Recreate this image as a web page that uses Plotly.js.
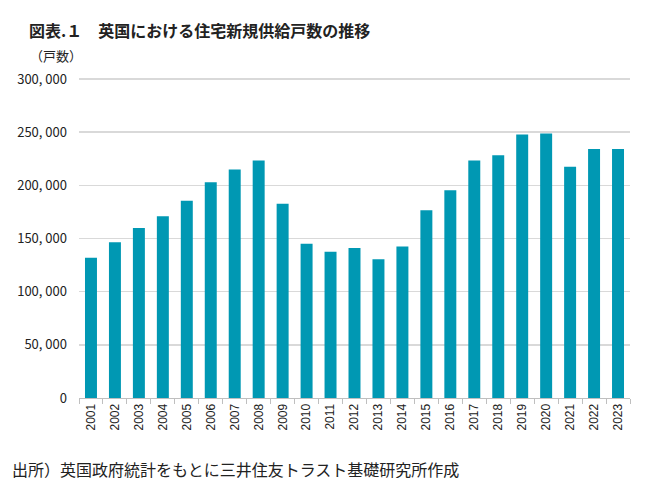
<!DOCTYPE html>
<html>
<head>
<meta charset="utf-8">
<script src="https://cdn.plot.ly/plotly-3.0.1.min.js"></script>
<style>html,body{margin:0;padding:0;background:#fff;}#chart{width:656px;height:493px;}</style>
</head>
<body>
<div id="chart"></div>
<script>
const years = ["2001","2002","2003","2004","2005","2006","2007","2008","2009","2010","2011","2012","2013","2014","2015","2016","2017","2018","2019","2020","2021","2022","2023"];
const supply = [132000,146500,160000,171000,185500,203000,215000,223500,182700,145000,137500,141000,130500,142500,176500,195300,223300,228300,247800,248800,217600,234200,234200];
const yTickVals = [0,50000,100000,150000,200000,250000,300000];
const yTickText = ["0","50, 000","100, 000","150, 000","200, 000","250, 000","300, 000"];
const titleText = "図表.１　英国における住宅新規供給戸数の推移";
const unitText = "（戸数）";
const sourceText = "出所）英国政府統計をもとに三井住友トラスト基礎研究所作成";

const jp = "'Noto Sans CJK JP', 'Noto Sans', sans-serif";
const W = 656, H = 493, L = 79, R = 26, T = 78, B = 95;
const pw = W - L - R, ph = H - T - B;
const px = x => (x - L) / pw;
const py = y => (H - B - y) / ph;

const data = [{
  type: "bar",
  x: years,
  y: supply,
  marker: {color: "#0098B3", line: {width: 0}},
  hoverinfo: "x+y"
}];

const layout = {
  width: W, height: H,
  margin: {l: L, r: R, t: T, b: B, pad: 0},
  paper_bgcolor: "#fff", plot_bgcolor: "#fff",
  showlegend: false,
  bargap: 0.5,
  xaxis: {
    type: "category",
    tickangle: -90,
    tickfont: {family: "'Liberation Sans', Arial, sans-serif", size: 12, color: "#222"},
    showgrid: false,
    showline: true, linecolor: "#bfbfbf", linewidth: 1,
    ticks: "outside", tickson: "boundaries", ticklen: 5, tickcolor: "#bfbfbf", tickwidth: 1,
    zeroline: false
  },
  yaxis: {
    range: [0, 301000],
    tickvals: yTickVals, ticktext: yTickText,
    tickfont: {family: jp, size: 13, color: "#222"},
    showgrid: true, gridcolor: "#d9d9d9", gridwidth: 1.5,
    zeroline: false, showline: false, ticks: "", ticklabelstandoff: 11
  },
  annotations: [
    {text: titleText, xref: "paper", yref: "paper", x: px(27), y: py(30), xanchor: "left", yanchor: "middle",
     showarrow: false, font: {family: jp, size: 16, color: "#222", weight: 700}},
    {text: unitText, xref: "paper", yref: "paper", x: px(28), y: py(56), xanchor: "left", yanchor: "middle",
     showarrow: false, font: {family: jp, size: 13, color: "#222"}},
    {text: sourceText, xref: "paper", yref: "paper", x: px(10), y: py(469), xanchor: "left", yanchor: "middle",
     showarrow: false, font: {family: jp, size: 16, color: "#222"}}
  ]
};

Plotly.newPlot("chart", data, layout, {displayModeBar: false, staticPlot: true});
</script>
</body>
</html>
